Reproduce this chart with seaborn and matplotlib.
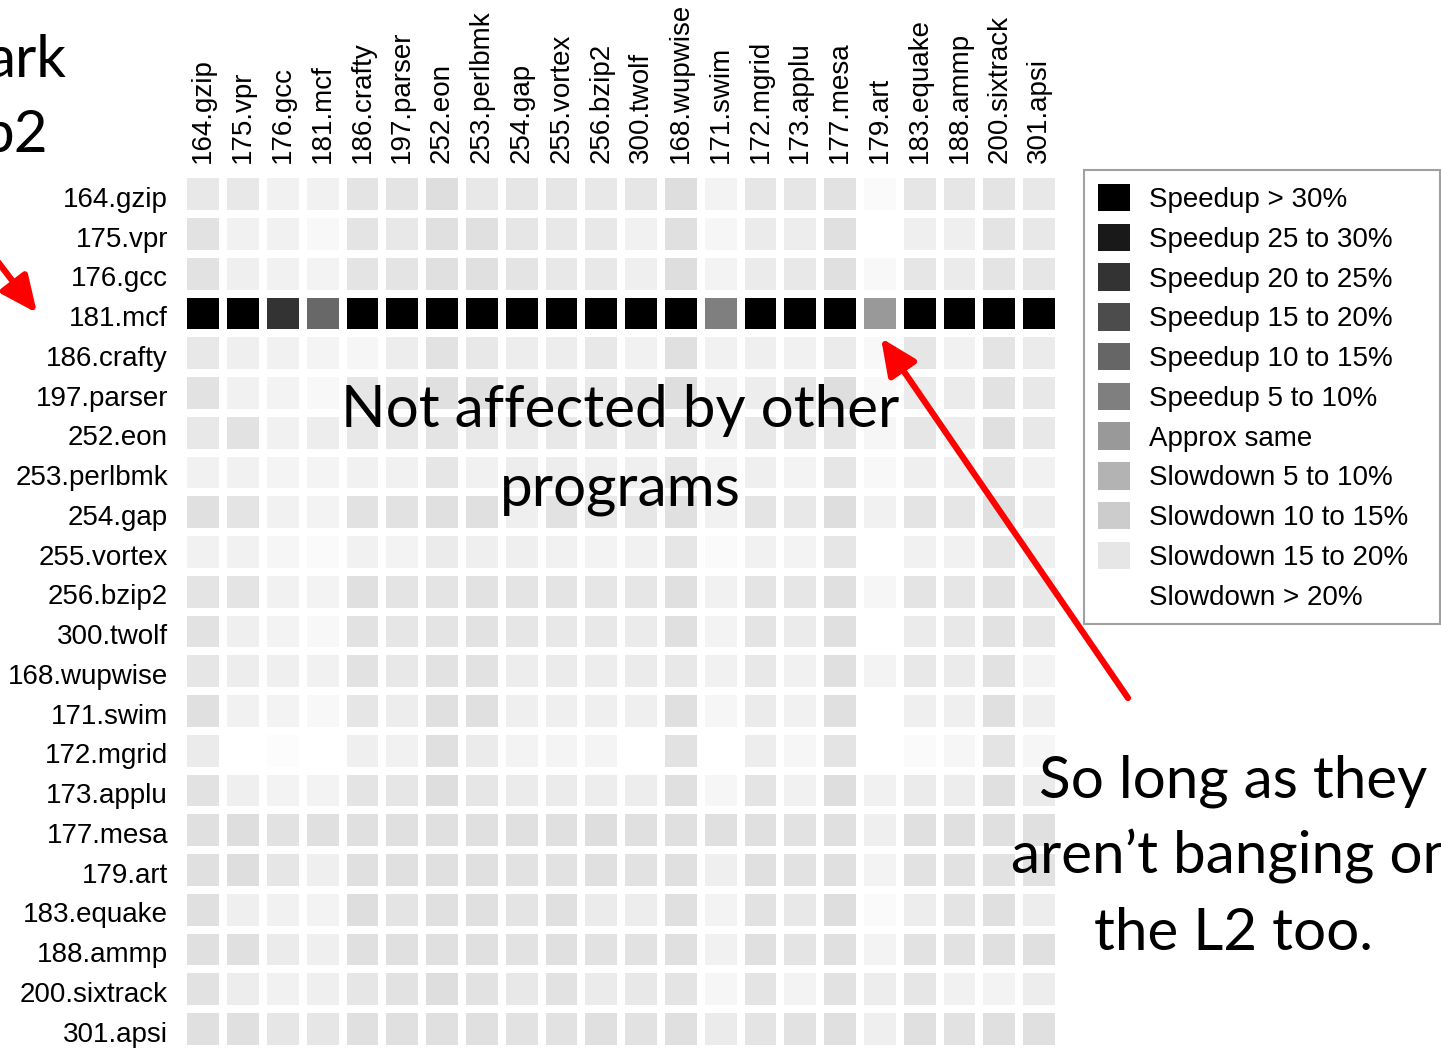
import numpy as np
import pandas as pd
import matplotlib
matplotlib.use("Agg")
import matplotlib.pyplot as plt
import matplotlib.transforms as mtransforms
import seaborn as sns
from matplotlib.colors import LinearSegmentedColormap, Normalize
from matplotlib.patches import Patch, FancyArrowPatch

# SPEC CPU2000 benchmarks (rows and columns of the grid)
benchmarks = ["164.gzip", "175.vpr", "176.gcc", "181.mcf", "186.crafty", "197.parser",
              "252.eon", "253.perlbmk", "254.gap", "255.vortex", "256.bzip2", "300.twolf",
              "168.wupwise", "171.swim", "172.mgrid", "173.applu", "177.mesa", "179.art",
              "183.equake", "188.ammp", "200.sixtrack", "301.apsi"]

# speedup in percent (negative = slowdown)
speedup = [
    [-15.5, -15.5, -17.1, -17.1, -14.7, -14.7, -13.5, -15.5, -15.1, -15.1, -15.5, -15.1, -13.5, -17.5, -15.1, -15.1, -14.3, -19.0, -15.1, -15.1, -14.7, -15.5],
    [-14.3, -17.1, -17.1, -18.6, -14.7, -15.5, -13.9, -13.9, -15.1, -15.5, -15.5, -17.1, -13.9, -18.2, -15.9, -16.3, -13.9, -21.0, -16.7, -16.7, -14.7, -15.5],
    [-14.3, -16.7, -17.1, -17.5, -14.7, -14.7, -13.9, -13.9, -14.7, -15.5, -15.5, -16.7, -13.5, -17.5, -15.9, -15.5, -13.9, -18.6, -15.1, -15.9, -14.7, -15.1],
    [35.0, 35.0, 20.0, 9.5, 35.0, 35.0, 35.0, 35.0, 35.0, 35.0, 35.0, 35.0, 35.0, 5.0, 35.0, 35.0, 35.0, 0.0, 35.0, 35.0, 35.0, 35.0],
    [-15.5, -16.7, -17.1, -17.8, -18.2, -16.3, -14.3, -15.5, -16.3, -16.3, -15.5, -17.1, -13.9, -17.1, -16.7, -17.1, -15.9, -18.6, -15.1, -17.1, -14.7, -15.9],
    [-14.3, -17.1, -17.5, -18.6, -15.1, -15.1, -13.9, -13.9, -15.1, -15.1, -15.5, -15.1, -13.5, -17.1, -16.3, -15.1, -13.5, -18.6, -15.9, -15.9, -14.3, -15.5],
    [-15.5, -14.3, -17.1, -16.3, -15.5, -15.5, -14.7, -15.5, -15.9, -15.5, -15.5, -15.5, -15.1, -17.1, -15.5, -15.5, -15.1, -18.2, -15.1, -16.3, -13.9, -15.5],
    [-17.1, -17.1, -17.8, -17.8, -17.1, -17.1, -15.1, -17.1, -16.3, -16.3, -16.7, -16.7, -15.1, -17.5, -16.7, -17.5, -15.1, -18.6, -16.7, -16.7, -15.1, -17.1],
    [-13.9, -14.7, -17.1, -17.5, -14.3, -14.3, -13.9, -13.9, -16.7, -14.3, -15.5, -15.1, -13.9, -17.1, -14.7, -15.5, -13.5, -17.1, -14.7, -15.1, -13.9, -16.3],
    [-17.1, -17.1, -18.2, -19.0, -17.1, -17.5, -15.9, -16.7, -16.7, -17.1, -17.5, -17.1, -15.1, -19.0, -17.1, -17.5, -15.1, -21.0, -17.1, -17.1, -15.1, -16.7],
    [-14.7, -14.7, -17.1, -17.5, -13.9, -14.7, -14.7, -14.3, -14.7, -14.7, -15.1, -15.1, -13.9, -17.1, -14.7, -15.1, -13.9, -18.2, -14.7, -15.1, -14.3, -15.5],
    [-14.3, -16.7, -17.5, -18.6, -14.3, -15.1, -14.7, -14.3, -15.1, -15.5, -15.5, -15.9, -13.9, -17.5, -14.7, -15.9, -13.9, -21.0, -15.9, -15.5, -14.3, -15.1],
    [-15.1, -16.3, -16.7, -17.1, -14.3, -15.5, -14.3, -14.3, -16.3, -15.9, -16.3, -15.9, -15.5, -17.1, -15.5, -17.1, -13.9, -17.5, -15.5, -15.9, -14.3, -17.5],
    [-13.9, -17.1, -17.5, -18.6, -15.1, -16.3, -13.9, -13.9, -16.7, -16.7, -16.7, -16.7, -13.9, -18.2, -15.9, -17.1, -13.9, -21.0, -16.7, -16.7, -13.9, -16.7],
    [-15.9, -21.0, -19.4, -21.0, -16.7, -17.1, -13.9, -15.9, -17.5, -17.8, -17.8, -21.0, -14.3, -21.0, -16.3, -18.2, -14.7, -21.0, -19.0, -18.2, -14.7, -18.2],
    [-14.3, -16.7, -17.5, -17.5, -14.7, -15.1, -13.5, -15.1, -15.9, -15.9, -16.3, -16.3, -13.9, -18.2, -14.7, -17.1, -13.5, -17.1, -15.9, -16.3, -13.9, -15.9],
    [-13.9, -13.5, -14.3, -13.9, -13.9, -13.9, -13.9, -13.9, -13.9, -13.9, -13.5, -13.9, -13.9, -13.9, -13.9, -14.3, -13.9, -16.7, -13.9, -13.9, -13.9, -13.9],
    [-13.9, -13.5, -15.1, -16.7, -13.9, -13.9, -13.9, -13.9, -14.3, -14.3, -13.9, -14.3, -13.9, -16.7, -13.9, -14.3, -13.9, -17.5, -14.3, -14.3, -14.3, -14.3],
    [-13.9, -16.7, -17.1, -17.5, -13.5, -14.7, -13.9, -13.9, -14.7, -13.9, -15.9, -16.3, -13.9, -17.5, -14.3, -15.5, -13.5, -19.0, -16.3, -14.7, -13.9, -16.3],
    [-13.9, -13.9, -15.9, -16.7, -13.9, -13.9, -13.9, -13.9, -14.3, -13.9, -14.3, -14.3, -13.9, -17.1, -13.9, -14.7, -13.9, -17.5, -14.3, -14.3, -13.9, -13.9],
    [-14.3, -16.3, -17.1, -16.7, -15.1, -14.3, -13.5, -14.3, -15.5, -14.3, -15.9, -15.5, -14.7, -18.2, -14.7, -17.5, -14.3, -16.3, -15.1, -17.1, -17.5, -16.3],
    [-13.9, -13.9, -15.1, -15.1, -13.9, -13.9, -13.9, -13.9, -14.3, -14.3, -13.9, -14.3, -13.9, -15.9, -14.7, -14.3, -13.9, -16.7, -13.9, -14.3, -13.9, -13.9],
]

# legend categories and their lower bounds (percent)
legend_labels = ["Speedup > 30%", "Speedup 25 to 30%", "Speedup 20 to 25%", "Speedup 15 to 20%",
                 "Speedup 10 to 15%", "Speedup 5 to 10%", "Approx same", "Slowdown 5 to 10%",
                 "Slowdown 10 to 15%", "Slowdown 15 to 20%", "Slowdown > 20%"]
legend_bounds = [30, 25, 20, 15, 10, 5, 0, -5, -10, -15, -20]

# slide annotations
note_lines = ["Not affected by other", "programs"]
caveat_lines = ["So long as they", "aren\u2019t banging on", "the L2 too."]
title_lines = ["ark", "b2"]

W, H = 1441, 1049
fig = plt.figure(figsize=(W / 100, H / 100), dpi=100)
fig.patch.set_facecolor("white")

cmap = LinearSegmentedColormap.from_list("speed", ["white", "black"])
norm = Normalize(vmin=-20, vmax=30)

ax = fig.add_axes([183.4 / W, 0.1 / H, 875.6 / W, 874.5 / H])
df = pd.DataFrame(speedup, index=benchmarks, columns=benchmarks)
sns.heatmap(df, ax=ax, cmap=cmap, norm=norm, cbar=False,
            linewidths=5.6, linecolor="white")

tick_font = {"family": "Liberation Sans", "size": 20}
ax.xaxis.tick_top()
ax.tick_params(axis="both", length=0)
ax.tick_params(axis="x", pad=8)
ax.tick_params(axis="y", pad=11)
ax.set_xticklabels(benchmarks, rotation=90, fontdict=tick_font)
ax.set_yticklabels(benchmarks, rotation=0, fontdict=tick_font)
ax.set_xlabel("")
ax.set_ylabel("")
# row names sit a little below the cell centres on the slide
shift = mtransforms.ScaledTranslation(0, -0.055, fig.dpi_scale_trans)
for lbl in ax.get_yticklabels():
    lbl.set_transform(lbl.get_transform() + shift)

handles = [Patch(facecolor=cmap(norm(b)), edgecolor="none") for b in legend_bounds]
leg = fig.legend(handles, legend_labels, loc="upper left", mode="expand",
                 bbox_to_anchor=(1084 / W, 1 - 628 / H, 356 / W, 458 / H),
                 bbox_transform=fig.transFigure,
                 borderaxespad=0, prop={"family": "Liberation Sans", "size": 20},
                 handlelength=1.15, handleheight=1.15, handletextpad=0.68,
                 labelspacing=0.38, borderpad=0.5, fancybox=False, framealpha=1)
leg.get_frame().set_edgecolor("#a0a0a0")
leg.get_frame().set_linewidth(1.5)

big = {"family": "Lato", "size": 42, "color": "black"}
for i, line in enumerate(note_lines):
    fig.text(620 / W, 1 - (427 + 78 * i) / H, line, ha="center", va="baseline", **big)
for i, line in enumerate(caveat_lines):
    fig.text(1233 / W, 1 - (798 + 76 * i) / H, line, ha="center", va="baseline", **big)
fig.text(66 / W, 1 - 77 / H, title_lines[0], ha="right", va="baseline", **big)
fig.text(48 / W, 1 - 152 / H, title_lines[1], ha="right", va="baseline", **big)

# red arrows
arrow = dict(arrowstyle="-|>,head_length=1.1,head_width=0.5", color="red", lw=4.5,
             mutation_scale=20, shrinkA=0, shrinkB=0)
fig.add_artist(FancyArrowPatch((-2 / W, 1 - 262 / H), (37 / W, 1 - 313 / H),
                               transform=fig.transFigure, **arrow))
fig.add_artist(FancyArrowPatch((1128 / W, 1 - 698 / H), (881 / W, 1 - 338 / H),
                               transform=fig.transFigure, **arrow))

fig.savefig("out.png", dpi=100)
